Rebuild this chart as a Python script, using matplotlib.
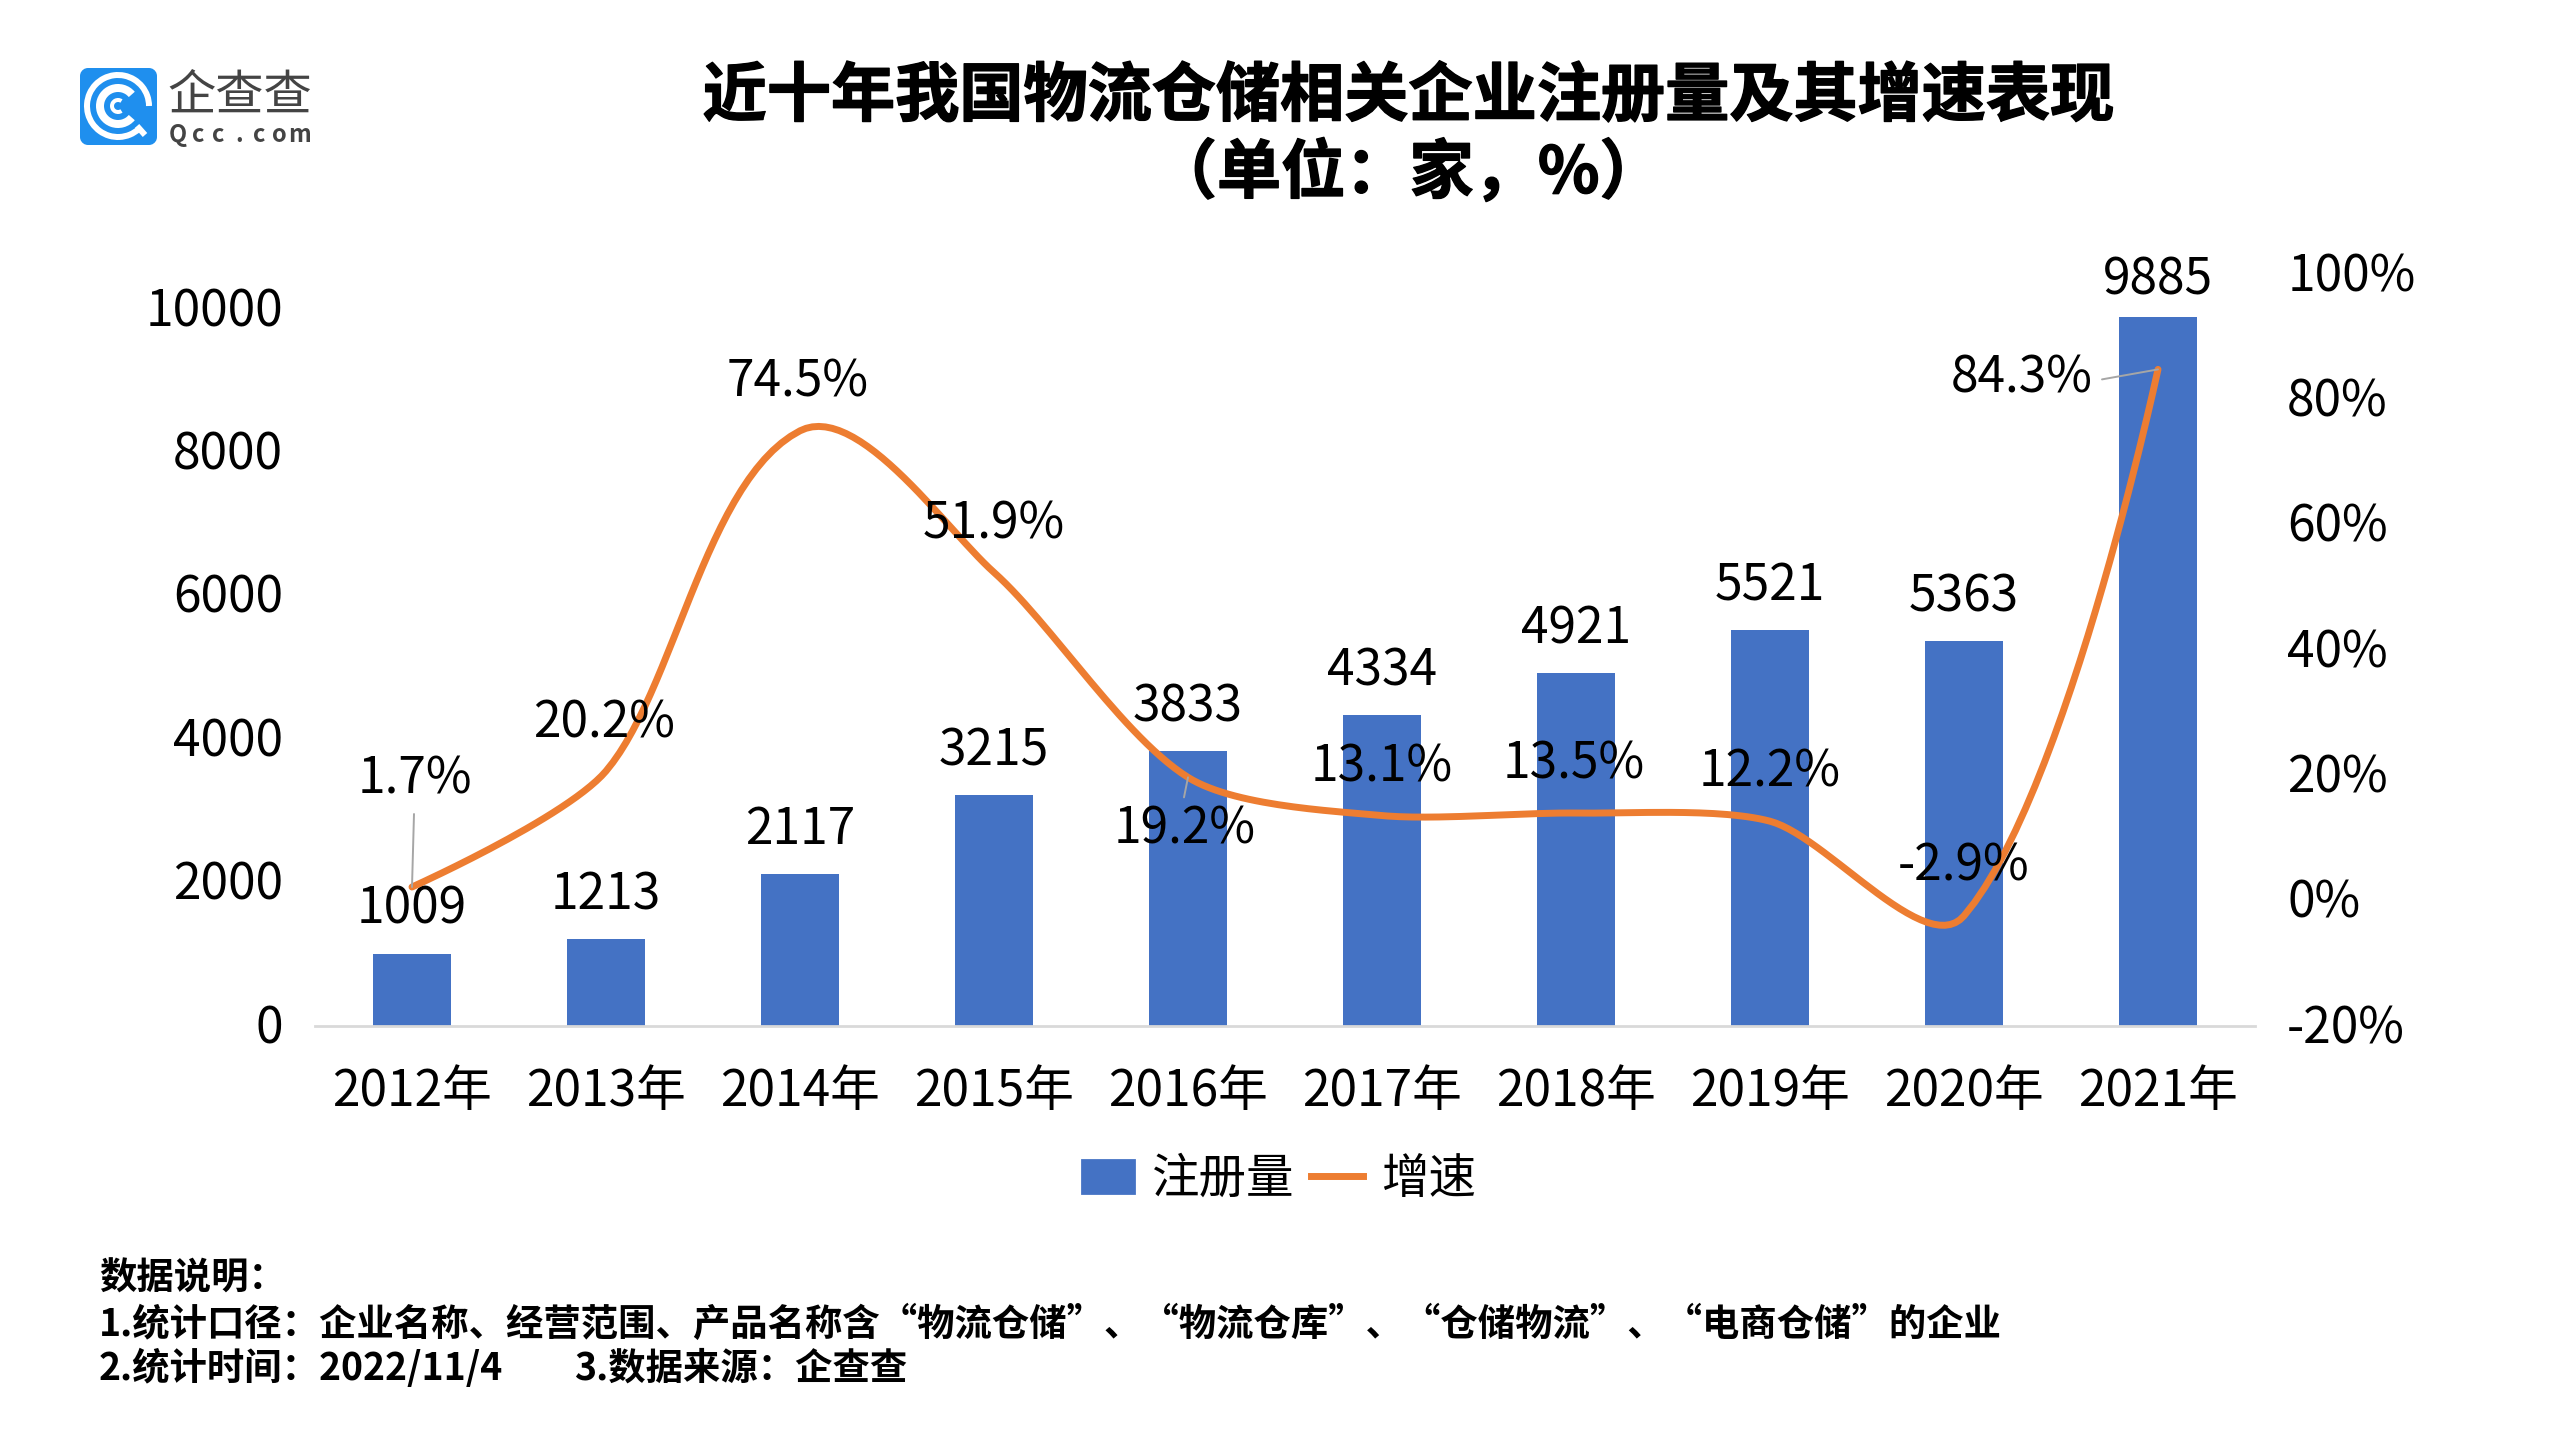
"""Registrations and growth of logistics/warehousing companies, 2012-2021."""
import numpy as np
import matplotlib
matplotlib.use("Agg")
import matplotlib.pyplot as plt
import matplotlib.patheffects as pe
from matplotlib.lines import Line2D
from matplotlib.patches import Arc, FancyBboxPatch, Patch
from matplotlib.transforms import ScaledTranslation

plt.rcParams["font.family"] = ["Noto Sans CJK SC", "DejaVu Sans"]

YEARS = ["2012年", "2013年", "2014年", "2015年", "2016年",
         "2017年", "2018年", "2019年", "2020年", "2021年"]
COUNTS = [1009, 1213, 2117, 3215, 3833, 4334, 4921, 5521, 5363, 9885]
GROWTH = [1.7, 20.2, 74.5, 51.9, 19.2, 13.1, 13.5, 12.2, -2.9, 84.3]
LEFT_TICKS = [0, 2000, 4000, 6000, 8000, 10000]
RIGHT_TICKS = [-20, 0, 20, 40, 60, 80, 100]

W, H = 2560, 1440
DPI = 200
BLUE = "#4472C4"
ORANGE = "#ED7D31"
LEADER = "#A6A6A6"
FS = 17.9
AX_L, AX_R, AX_T, AX_B = 315, 2255, 271, 1026
AX2_B = 1023  # the right axis stops just above the baseline
COUNT_TOP = 10530

# label offsets from each growth point, in pixels
GROWTH_OFFSETS = [(3, 108), (-2, 48), (-2, 48), (0, 48), (-3, -52),
                  (0, 48), (-2, 49), (0, 49), (0, 49), (-136, -9)]
# gap between each bar top and its label, in pixels
COUNT_OFFSETS = [44, 44, 44, 44, 44, 44, 44, 44, 44, 37]
# index -> far end of the thin leader line, in pixels from the point
LEADERS = {0: (2, 73), 4: (-4, -20), 9: (-56, -10)}


def smooth(xs, ys, sx, sy, k=0.27, steps=30):
    # smoothed line: tangent from the neighbours, handle length from the
    # on-screen length of each segment (sx, sy are pixels per data unit)
    p = np.column_stack([np.asarray(xs, float) * sx, np.asarray(ys, float) * sy])
    t = np.linspace(0, 1, steps)[:, None]
    out = []
    for i in range(len(p) - 1):
        seg = np.linalg.norm(p[i + 1] - p[i])
        b1, b2 = p[i].copy(), p[i + 1].copy()
        if i > 0:
            d = p[i + 1] - p[i - 1]
            b1 = p[i] + d / np.linalg.norm(d) * seg * k
        if i < len(p) - 2:
            d = p[i + 2] - p[i]
            b2 = p[i + 1] - d / np.linalg.norm(d) * seg * k
        out.append((1 - t) ** 3 * p[i] + 3 * (1 - t) ** 2 * t * b1
                   + 3 * (1 - t) * t ** 2 * b2 + t ** 3 * p[i + 1])
    out = np.vstack(out)
    return out[:, 0] / sx, out[:, 1] / sy


def draw_logo(ax):
    ax.add_patch(FancyBboxPatch((87, 75), 63, 63,
                                boxstyle="round,pad=0,rounding_size=1",
                                mutation_scale=1, facecolor="#1F8FEE",
                                edgecolor="#1F8FEE", linewidth=14 * 72 / DPI,
                                joinstyle="round"))
    cx, cy = 118, 106
    # y axis is flipped here, so arc angles run clockwise on screen
    ax.add_patch(Arc((cx, cy), 62, 62, theta1=48, theta2=360, color="white",
                     lw=6 * 72 / DPI))
    ax.add_patch(Arc((cx, cy), 36, 36, theta1=40, theta2=320, color="white",
                     lw=8 * 72 / DPI))
    ax.add_patch(Arc((cx, cy), 12, 12, theta1=55, theta2=305, color="white",
                     lw=4 * 72 / DPI))
    ax.plot([137, 145], [126, 135], color="white", lw=6 * 72 / DPI,
            solid_capstyle="butt")
    ax.text(240, 96, "企查查", fontsize=17.4, color="#444444", weight="light",
            ha="center", va="center")
    for i, ch in enumerate("Qcc.com"):
        ax.text(178 + i * 20.3, 135, ch, fontsize=8.5, color="#444444",
                weight="bold", ha="center", va="center")


def main():
    fig = plt.figure(figsize=(W / DPI, H / DPI), dpi=DPI, facecolor="white")

    ax = fig.add_axes([AX_L / W, 1 - AX_B / H, (AX_R - AX_L) / W, (AX_B - AX_T) / H])
    x = np.arange(len(YEARS))
    ax.bar(x, COUNTS, width=0.4, color=BLUE)
    ax.set_xlim(-0.5, 9.5)
    ax.set_ylim(0, COUNT_TOP)
    ax.set_xticks(x, YEARS)
    ax.set_yticks(LEFT_TICKS)
    ax.tick_params(axis="x", length=0, pad=14.5, labelsize=FS)
    ax.tick_params(axis="y", length=0, pad=11.6, labelsize=FS)
    for side in ("top", "left", "right"):
        ax.spines[side].set_visible(False)
    ax.spines["bottom"].set_color("#D9D9D9")
    ax.spines["bottom"].set_linewidth(1)

    # tick labels sit a little above their gridline position in the source
    nudge = ScaledTranslation(0, 3 / DPI, fig.dpi_scale_trans)
    for lbl in ax.get_yticklabels():
        lbl.set_transform(lbl.get_transform() + nudge)

    ax2 = fig.add_axes([AX_L / W, 1 - AX2_B / H, (AX_R - AX_L) / W, (AX2_B - AX_T) / H])
    ax2.patch.set_alpha(0)
    ax2.set_xlim(-0.5, 9.5)
    ax2.set_ylim(-20, 100)
    ax2.set_xticks([])
    ax2.yaxis.tick_right()
    ax2.set_yticks(RIGHT_TICKS, [f"{v}%" for v in RIGHT_TICKS])
    ax2.tick_params(axis="y", length=0, pad=11.6, labelsize=FS)
    for side in ("top", "left", "right", "bottom"):
        ax2.spines[side].set_visible(False)

    sx, sy = smooth(x, GROWTH, (AX_R - AX_L) / 10, (AX2_B - AX_T) / 120)
    ax2.plot(sx, sy, color=ORANGE, lw=2.5, solid_capstyle="round")

    for i, end in LEADERS.items():
        ax2.annotate("", xy=(x[i], GROWTH[i]), xytext=end,
                     textcoords="offset pixels",
                     arrowprops=dict(arrowstyle="-", color=LEADER, lw=0.7,
                                     shrinkA=0, shrinkB=0))

    for xi, v, off in zip(x, COUNTS, COUNT_OFFSETS):
        ax.annotate(str(v), xy=(xi, v), xytext=(0, off),
                    textcoords="offset pixels", ha="center", va="center",
                    fontsize=FS, color="black", zorder=5)
    for xi, v, off in zip(x, GROWTH, GROWTH_OFFSETS):
        ax2.annotate(f"{v}%", xy=(xi, v), xytext=off,
                     textcoords="offset pixels", ha="center", va="center",
                     fontsize=FS, color="black", zorder=5)

    fig.legend([Patch(color=BLUE), Line2D([0], [0], color=ORANGE, lw=2.5)],
               ["注册量", "增速"], loc="center", ncol=2,
               bbox_to_anchor=(1279 / W, 1 - 1179 / H), frameon=False,
               fontsize=17.1, handlelength=1.1, handletextpad=0.38,
               columnspacing=0.35)

    # free text and logo, in image pixels
    over = fig.add_axes([0, 0, 1, 1], zorder=10)
    over.set_xlim(0, W)
    over.set_ylim(H, 0)
    over.axis("off")
    over.patch.set_alpha(0)

    heavy = [pe.withStroke(linewidth=0.5, foreground="black")]
    over.text(1408, 97, "近十年我国物流仓储相关企业注册量及其增速表现",
              fontsize=23.1, weight="bold", ha="center", va="center",
              path_effects=heavy)
    over.text(1408, 174, "（单位：家，%）", fontsize=23.1, weight="bold",
              ha="center", va="center", path_effects=heavy)

    notes = ["数据说明：",
             "1.统计口径：企业名称、经营范围、产品名称含“物流仓储”、“物流仓库”、“仓储物流”、“电商仓储”的企业",
             "2.统计时间：2022/11/4"]
    for y, txt in zip((1278, 1324, 1368), notes):
        over.text(99, y, txt, fontsize=13.46, weight="bold", ha="left", va="center")
    over.text(574, 1368, "3.数据来源：企查查", fontsize=13.46, weight="bold",
              ha="left", va="center")

    draw_logo(over)

    fig.savefig("out.png", dpi=DPI, facecolor="white")
    plt.close(fig)


if __name__ == "__main__":
    main()
